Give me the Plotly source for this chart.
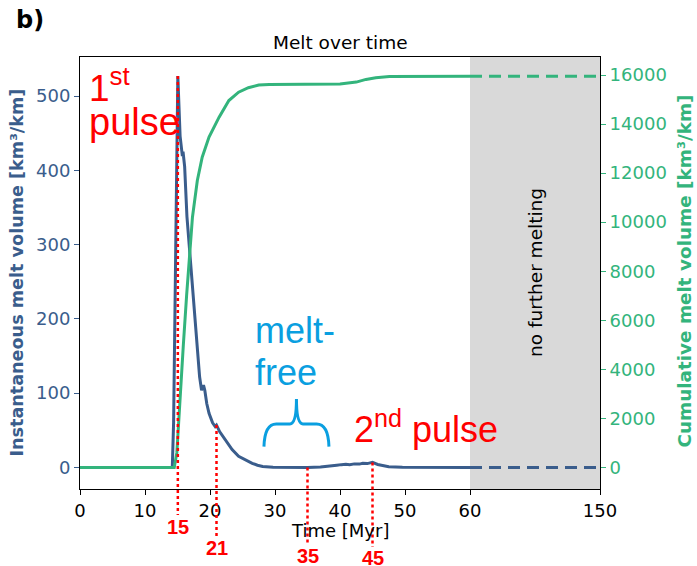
import numpy as np
import plotly.graph_objects as go

# ---------------- data ----------------
time_inst = [0, 14.2, 14.4, 14.6, 14.8, 15.05, 15.4, 15.75, 15.85, 16.1, 16.45, 16.8, 17.3, 17.7,
             18.05, 18.4, 18.7, 19.0, 19.2, 19.5, 19.85, 20.4, 20.8, 21.0, 21.5, 22.4, 23.4, 24.4,
             25.5, 26.5, 27.3, 28.1, 29.7, 32, 35, 37, 38.4, 39.5, 40.2, 40.9, 41.5, 42.2, 43.0,
             43.5, 44.2, 45.0, 45.8, 46.5, 47.5, 49.6, 52, 60]
melt_inst = [0, 0, 60, 190, 380, 527, 446, 419, 425, 405, 338, 298, 248, 203,
             158, 122, 104, 111, 104, 86, 73, 60, 55, 57, 48, 37, 24, 15,
             10, 5.6, 3, 1.2, 0.3, 0, 0, 0.5, 2.4, 3, 3.8, 4.3, 3.6, 4.8, 4.5,
             5.6, 5.2, 6.8, 4, 2.4, 1, 0.2, 0, 0]

time_cum = [0, 14.5, 14.9, 15.2, 15.5, 15.9, 16.4, 16.8, 17.3, 18.05, 18.8, 19.85, 21.4, 22.9,
            24.4, 25.9, 27.5, 29.1, 38, 40, 42.5, 44, 45.5, 47.6, 60]
melt_cum = [0, 0, 600, 2000, 3500, 5000, 7000, 8600, 10200, 11700, 12650, 13470, 14280, 14960,
            15300, 15480, 15590, 15615, 15620, 15630, 15710, 15820, 15890, 15940, 15945]

time_after = [60, 150]
inst_after = [0, 0]
cum_after = [15945, 15945]

x_tick_vals = [0, 10, 20, 30, 40, 50, 60, 150]
x_tick_text = ["0", "10", "20", "30", "40", "50", "60", "150"]

marker_times = [15.05, 21, 35, 45]
marker_labels = ["15", "21", "35", "45"]
marker_values = [527, 57, 0, 6.8]

BLUE = "#3a5d8c"
GREEN = "#33b47c"
RED = "#ff0000"
LBLUE = "#0a9fe0"


def xmap(t):
    t = np.asarray(t, dtype=float)
    return np.where(t <= 60, t, 60 + (t - 60) * 20.0 / 90.0)


Y1 = [-29, 552.5]
Y2 = [-881, 16734]

fig = go.Figure()

fig.add_trace(go.Scatter(x=xmap(time_inst), y=melt_inst, mode="lines",
                         line=dict(color=BLUE, width=3), yaxis="y", showlegend=False))
fig.add_trace(go.Scatter(x=xmap(time_after), y=inst_after, mode="lines",
                         line=dict(color=BLUE, width=3, dash="12px,7px"), yaxis="y", showlegend=False))
fig.add_trace(go.Scatter(x=xmap(time_cum), y=melt_cum, mode="lines",
                         line=dict(color=GREEN, width=3), yaxis="y2", showlegend=False))
fig.add_trace(go.Scatter(x=xmap(time_after), y=cum_after, mode="lines",
                         line=dict(color=GREEN, width=3, dash="12px,7px"), yaxis="y2", showlegend=False))

shapes = []
# grey "no further melting" region
shapes.append(dict(type="rect", xref="x", yref="paper", x0=float(xmap(60)), x1=float(xmap(150)),
                   y0=0, y1=1, fillcolor="#d9d9d9", line=dict(width=0), layer="below"))

# red dotted marker lines (from curve down below the axis)
line_ends = [-0.060, -0.109, -0.130, -0.134]
label_pos = [-0.088, -0.137, -0.155, -0.160]
for t, v, ye in zip(marker_times, marker_values, line_ends):
    yp = (v - Y1[0]) / (Y1[1] - Y1[0])
    shapes.append(dict(type="line", xref="x", yref="paper", x0=t, x1=t, y0=yp, y1=ye,
                       line=dict(color=RED, width=2.5, dash="dot"), layer="above"))

# brace over the melt-free interval
brace = ("M28.3,28 Q28.4,58.6 30.2,58.6 L32.3,58.6 Q33.3,58.6 33.3,92 "
         "Q33.3,58.6 34.3,58.6 L36.4,58.6 Q38.2,58.6 38.3,28")
shapes.append(dict(type="path", xref="x", yref="y", path=brace,
                   line=dict(color=LBLUE, width=3)))

annotations = []
for t, lab, yl in zip(marker_times, marker_labels, label_pos):
    annotations.append(dict(x=t, xref="x", y=yl, yref="paper", text="<b>%s</b>" % lab,
                            showarrow=False, font=dict(family="Liberation Sans", size=20, color=RED),
                            xanchor="center", yanchor="middle"))

big = dict(family="Liberation Sans", size=36)
C = dict(xanchor="center", yanchor="middle", showarrow=False, xref="paper", yref="paper")
L = dict(xanchor="left", yanchor="middle", showarrow=False, xref="paper", yref="paper")
annotations += [
    dict(x=0.0135, y=0.934, text="1<sup>st</sup>", font=dict(family="Liberation Sans", size=37, color=RED), **L),
    dict(x=0.0135, y=0.8486, text="pulse", font=dict(family="Liberation Sans", size=38, color=RED), **L),
    dict(x=0.333, y=0.368, text="melt-", font=dict(**big, color=LBLUE), **L),
    dict(x=0.333, y=0.27, text="free", font=dict(**big, color=LBLUE), **L),
    dict(x=0.5225, y=0.1426, text="2<sup>nd</sup> pulse", font=dict(**big, color=RED), **L),
    dict(x=70, xref="x", y=0.5, yref="paper", text="no further melting", showarrow=False,
         xanchor="center", yanchor="middle",
         textangle=-90, font=dict(family="DejaVu Sans", size=18.5, color="black")),
    dict(x=0.5, y=1.0347, text="Melt over time",
         font=dict(family="DejaVu Sans", size=18.5, color="black"), **C),
    dict(x=0.5, y=-0.095, text="Time [Myr]",
         font=dict(family="DejaVu Sans", size=18, color="black"), **C),
    dict(x=-0.122, y=0.5, text="<b>Instantaneous melt volume [km³/km]</b>",
         textangle=-90, font=dict(family="DejaVu Sans", size=17.6, color=BLUE), **C),
    dict(x=1.163, y=0.505, text="<b>Cumulative melt volume [km³/km]</b>",
         textangle=-90, font=dict(family="DejaVu Sans", size=18.4, color=GREEN), **C),
    dict(x=-0.096, y=1.086, text="<b>b)</b>",
         font=dict(family="DejaVu Sans", size=24, color="black"), **C),
]

fig.update_layout(
    width=697, height=566,
    margin=dict(l=80, r=97, t=57, b=77),
    paper_bgcolor="white", plot_bgcolor="white",
    shapes=shapes, annotations=annotations,
    xaxis=dict(range=[0, 80], tickvals=list(xmap(x_tick_vals)), ticktext=x_tick_text,
               ticks="outside", ticklen=5, tickcolor="black", showline=True, linecolor="black",
               linewidth=1, mirror=True, showgrid=False, zeroline=False,
               tickfont=dict(family="DejaVu Sans", size=18, color="black")),
    yaxis=dict(range=Y1, tickvals=[0, 100, 200, 300, 400, 500], ticks="outside", ticklen=5,
               tickcolor=BLUE, showline=True, linecolor="black", linewidth=1, mirror=True,
               showgrid=False, zeroline=False,
               tickfont=dict(family="DejaVu Sans", size=18, color=BLUE)),
    yaxis2=dict(range=Y2, overlaying="y", side="right",
                tickvals=[0, 2000, 4000, 6000, 8000, 10000, 12000, 14000, 16000],
                tickformat="d",
                ticks="outside", ticklen=5, tickcolor=GREEN, showline=True, linecolor="black",
                linewidth=1, showgrid=False, zeroline=False,
                tickfont=dict(family="DejaVu Sans", size=18, color=GREEN)),
)

fig.write_html("out.html", config={"displayModeBar": False},
               post_script="document.body.style.margin='0px';")
